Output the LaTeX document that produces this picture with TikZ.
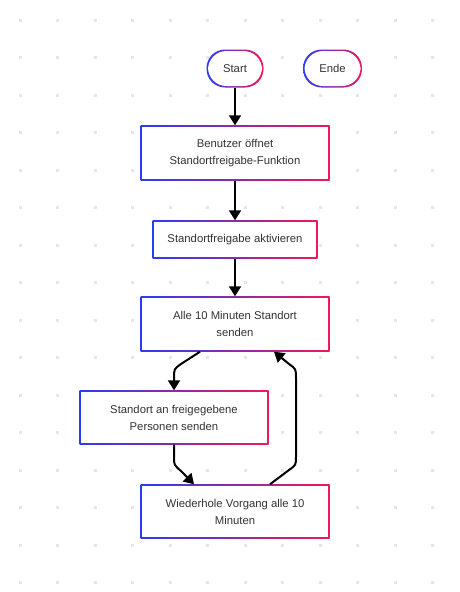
\documentclass[tikz,border=0pt]{standalone}
\usepackage{fontspec}
\setmainfont{Liberation Sans}
\usetikzlibrary{arrows.meta,calc}
\definecolor{gB}{HTML}{2A3CF5}
\definecolor{gR}{HTML}{F0185A}
\definecolor{txt}{HTML}{333333}
\definecolor{dotc}{HTML}{E6E6E6}
\tikzset{
  gshade/.style={draw=none,left color=gB,right color=gR,inner sep=0pt},
  ginner/.style={draw=none,fill=white,inner sep=0pt,align=center,text=txt,font=\fontsize{11.3}{17}\selectfont},
  conn/.style={line width=2pt,-{Triangle[length=10pt,width=12pt]}}
}
\newcommand\gnode[6]{%
  \node[gshade,minimum width=#3,minimum height=#4,rounded corners=#6] (#1) at #2 {};
  \node[ginner,minimum width=#3-3,minimum height=#4-3,rounded corners=#6] at #2 {#5};}
\begin{document}
\begin{tikzpicture}[x=1pt,y=-1pt]
\useasboundingbox[fill=white] (0,0) rectangle (459,592);
\foreach \i in {0,...,11}{\foreach \j in {0,...,15}{
  \fill[dotc] ({20+37.5*\i-1.5},{20+37.5*\j-1.5}) rectangle ++(3,3);}}
\gnode{st}{(235,68.5)}{57}{38}{Start}{18.5pt}
\gnode{en}{(332.5,68.5)}{59}{38}{Ende}{18.5pt}
\gnode{b1}{(235,153)}{189}{55}{Benutzer öffnet\\Standortfreigabe-Funktion}{0pt}
\gnode{b2}{(235,239.5)}{165}{38}{Standortfreigabe aktivieren}{0pt}
\gnode{b3}{(235,324)}{189}{55}{Alle 10 Minuten Standort\\senden}{0pt}
\gnode{b4}{(174,417.5)}{189}{54}{Standort an freigegebene\\Personen senden}{0pt}
\gnode{b5}{(235,511.5)}{189}{54}{Wiederhole Vorgang alle 10\\Minuten}{0pt}
\draw[conn] (st.south) -- (b1.north);
\draw[conn] (b1.south) -- (b2.north);
\draw[conn] (b2.south) -- (b3.north);
\draw[conn] ($(b3.south)+(-35,0)$) -- (181,364) .. controls (174,369) .. (174,378) -- (b4.north);
\draw[conn] (b4.south) -- (174,457) .. controls (174,465) .. (181,471) -- ($(b5.north)+(-41,0)$);
\draw[conn] ($(b5.north)+(35,0)$) -- (289,470) .. controls (296,465) .. (296,456) -- (296,378) .. controls (296,369) .. (289,364) -- ($(b3.south)+(39,0)$);
\end{tikzpicture}
\end{document}
